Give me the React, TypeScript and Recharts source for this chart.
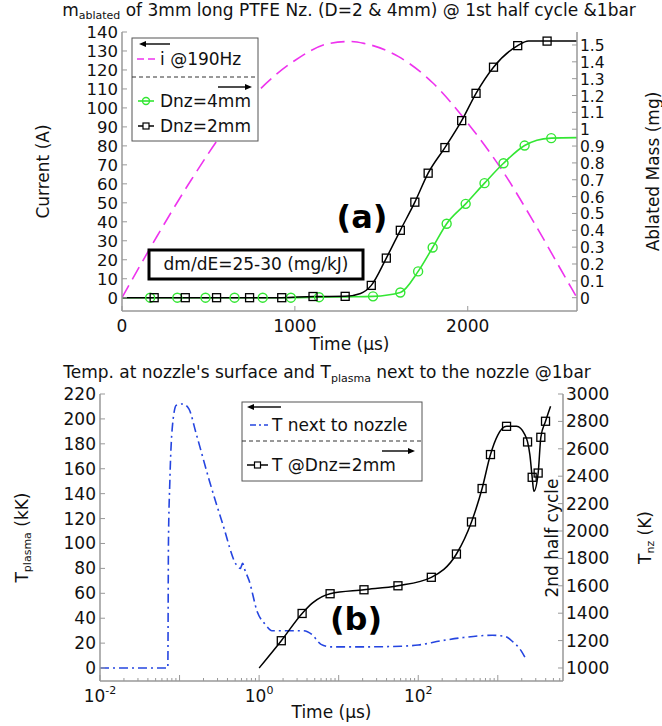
import React from 'react';
import { ComposedChart, Line, XAxis, YAxis } from 'recharts';

const FONT = "'DejaVu Sans', sans-serif";
const AXIS = '#999';
const INK = '#111';

// (a) arc current and ablated mass during the 1st half cycle
const currentTime = [0, 200, 400, 600, 800, 1000, 1200, 1316, 1400, 1600, 1800, 2000, 2200, 2400, 2600, 2632];
const currentAmp = [0, 32, 62, 89, 110, 125, 134, 135, 134, 127, 113, 92, 67, 37, 5, 0];

const dnz4Time = [0, 163, 320, 483, 651, 814, 977, 1140, 1300, 1452, 1610, 1713, 1797, 1878, 1988, 2097, 2207, 2329, 2400, 2483, 2632];
const dnz4Mass = [0, 0, 0, 0, 0, 0, 0, 0.003, 0.005, 0.008, 0.031, 0.156, 0.298, 0.439, 0.557, 0.68, 0.798, 0.903, 0.935, 0.947, 0.95];
const dnz4Marker = [0, 1, 1, 1, 1, 1, 1, 1, 0, 1, 1, 1, 1, 1, 1, 1, 1, 1, 0, 1, 0];

const dnz2Time = [0, 186, 366, 547, 738, 924, 1105, 1291, 1380, 1442, 1529, 1610, 1694, 1771, 1868, 1965, 2048, 2149, 2289, 2352, 2459, 2632];
const dnz2Mass = [0, 0, 0, 0, 0, 0, 0.007, 0.008, 0.025, 0.073, 0.235, 0.4, 0.567, 0.739, 0.891, 1.051, 1.213, 1.368, 1.496, 1.523, 1.523, 1.523];
const dnz2Marker = [0, 1, 1, 1, 1, 1, 1, 1, 0, 1, 1, 1, 1, 1, 1, 1, 1, 1, 1, 0, 1, 0];

const timeTicks = [0, 1000, 2000];
const currentTicks = [0, 10, 20, 30, 40, 50, 60, 70, 80, 90, 100, 110, 120, 130, 140];
const massTicks = [0, 0.1, 0.2, 0.3, 0.4, 0.5, 0.6, 0.7, 0.8, 0.9, 1, 1.1, 1.2, 1.3, 1.4, 1.5];

// (b) plasma temperature and nozzle surface temperature, log time
const plasmaTime = [0.01, 0.0712, 0.0725, 0.0755, 0.081, 0.091, 0.11, 0.131, 0.162, 0.238, 0.351, 0.516, 0.58, 0.62, 0.66, 0.75, 0.95, 1.2, 1.45, 2, 3.6, 4.6, 6, 8, 20, 61, 100, 200, 370, 850, 1220, 1550, 1960, 2220];
const plasmaKK = [0, 0, 100, 150, 193, 211, 212, 208, 188, 150, 115, 83, 80, 84, 79, 70, 45, 35, 30, 30, 30, 27, 19, 17, 17, 17.5, 18.5, 22, 24.5, 26.3, 25.5, 21, 14, 8];

const nozzleTime = [1, 1.9, 3.47, 4.7, 7.8, 20.8, 55.6, 146, 302, 467, 635, 809, 1000, 1288, 1718, 2188, 2366, 2529, 2705, 2840, 3215, 3475, 3980, 4600];
const nozzleK = [1000, 1199, 1398, 1475, 1542, 1571, 1600, 1662, 1832, 2066, 2310, 2558, 2700, 2764, 2764, 2704, 2650, 2558, 2392, 2290, 2423, 2684, 2801, 2910];
const nozzleMarker = [0, 1, 1, 0, 1, 1, 1, 1, 1, 1, 1, 1, 0, 1, 0, 0, 1, 0, 1, 0, 1, 1, 1, 0];

const plasmaTicks = [0, 20, 40, 60, 80, 100, 120, 140, 160, 180, 200, 220];
const nozzleTicks = [1000, 1200, 1400, 1600, 1800, 2000, 2200, 2400, 2600, 2800, 3000];
const logDecades = [0.01, 0.1, 1, 10, 100, 1000];
const logMantissas = [1, 2, 3, 4, 5, 6, 7, 8, 9];
const logLabelValues = [0.01, 1, 100];
const logLabelExps = ['-2', '0', '2'];

const currentData = currentTime.map((t, i) => ({ t, v: currentAmp[i] }));
const dnz4Data = dnz4Time.map((t, i) => ({ t, v: dnz4Mass[i], mk: dnz4Marker[i] }));
const dnz2Data = dnz2Time.map((t, i) => ({ t, v: dnz2Mass[i], mk: dnz2Marker[i] }));
const plasmaData = plasmaTime.map((t, i) => ({ t, v: plasmaKK[i] }));
const nozzleData = nozzleTime.map((t, i) => ({ t, v: nozzleK[i], mk: nozzleMarker[i] }));

const logTicks = logDecades
  .flatMap((d) => logMantissas.map((m) => +(m * d).toPrecision(3)))
  .filter((v) => v <= 6600);

const isDecade = (v: number) => Math.abs(Math.log10(v) - Math.round(Math.log10(v))) < 1e-6;

const GREEN = '#33e633';
const MAGENTA = '#ee33ee';
const BLUE = '#2545e0';

// inward ticks, Matlab style
const BottomTick = (p: any) => (
  <g>
    <line x1={p.x} y1={p.y} x2={p.x} y2={p.y - 5} stroke={AXIS} />
    <text x={p.x} y={p.y + 21} textAnchor="middle" fontSize={17} fill={INK} fontFamily={FONT}>
      {p.payload.value}
    </text>
  </g>
);
const TopTick = (p: any) => <line x1={p.x} y1={p.y} x2={p.x} y2={p.y + 5} stroke={AXIS} />;
const makeLeftTick = (size: number) => (p: any) => (
  <g>
    <line x1={p.x} y1={p.y} x2={p.x + 5} y2={p.y} stroke={AXIS} />
    <text x={p.x - 4} y={p.y + 6} textAnchor="end" fontSize={size} fill={INK} fontFamily={FONT}>
      {p.payload.value}
    </text>
  </g>
);
const makeRightTick = (size: number) => (p: any) => (
  <g>
    <line x1={p.x} y1={p.y} x2={p.x - 5} y2={p.y} stroke={AXIS} />
    <text x={p.x + 3} y={p.y + 6} textAnchor="start" fontSize={size} fill={INK} fontFamily={FONT}>
      {p.payload.value}
    </text>
  </g>
);
const LogBottomTick = (p: any) => {
  const v = p.payload.value;
  const len = isDecade(v) ? 6 : 3;
  const li = logLabelValues.findIndex((l) => Math.abs(l - v) < 1e-9);
  return (
    <g>
      <line x1={p.x} y1={p.y} x2={p.x} y2={p.y - len} stroke={AXIS} />
      {li >= 0 && (
        <text x={p.x} y={p.y + 21} textAnchor="middle" fontSize={17} fill={INK} fontFamily={FONT}>
          10<tspan fontSize={11} dy={-8}>{logLabelExps[li]}</tspan>
        </text>
      )}
    </g>
  );
};
const LogTopTick = (p: any) => {
  const len = isDecade(p.payload.value) ? 6 : 3;
  return <line x1={p.x} y1={p.y} x2={p.x} y2={p.y + len} stroke={AXIS} />;
};

const circleDot = (p: any) =>
  p.payload.mk ? (
    <circle key={`c${p.index}`} cx={p.cx} cy={p.cy} r={4.5} fill="none" stroke={GREEN} strokeWidth={1.4} />
  ) : (
    <g key={`c${p.index}`} />
  );
const squareDot = (p: any) =>
  p.payload.mk ? (
    <rect key={`s${p.index}`} x={p.cx - 4} y={p.cy - 4} width={8} height={8} fill="none" stroke="#000" strokeWidth={1.3} />
  ) : (
    <g key={`s${p.index}`} />
  );

const axisLine = { stroke: AXIS, strokeWidth: 1.5 };

function Arrow({ x1, x2, y }: { x1: number; x2: number; y: number }) {
  const d = x2 > x1 ? 1 : -1;
  return (
    <g>
      <line x1={x1} y1={y} x2={x2 - d * 4} y2={y} stroke="#000" strokeWidth={1.4} />
      <polygon points={`${x2},${y} ${x2 - d * 7},${y - 3} ${x2 - d * 7},${y + 3}`} fill="#000" />
    </g>
  );
}

export default function App() {
  return (
    <div style={{ position: 'absolute', left: 0, top: 0, width: 662, height: 726, background: '#fff', overflow: 'hidden' }}>
      <div style={{ position: 'absolute', left: 0, top: 0 }}>
        <ComposedChart width={662} height={360} margin={{ top: 32, right: 0, bottom: 0, left: 0 }}>
          <XAxis xAxisId="x" dataKey="t" type="number" domain={[0, 2632]} allowDataOverflow ticks={timeTicks} interval={0}
            height={49} axisLine={axisLine} tickLine={false} tickSize={0} tickMargin={0} tick={BottomTick} />
          <XAxis xAxisId="xt" orientation="top" dataKey="t" type="number" domain={[0, 2632]} allowDataOverflow ticks={timeTicks} interval={0}
            height={0} axisLine={axisLine} tickLine={false} tickSize={0} tickMargin={0} tick={TopTick} />
          <YAxis yAxisId="l" type="number" domain={[-7, 140]} allowDataOverflow ticks={currentTicks} interval={0} width={122}
            axisLine={axisLine} tickLine={false} tickSize={0} tickMargin={0} tick={makeLeftTick(16.5)} />
          <YAxis yAxisId="r" orientation="right" type="number" domain={[-0.079, 1.577]} allowDataOverflow ticks={massTicks} interval={0} width={85}
            axisLine={axisLine} tickLine={false} tickSize={0} tickMargin={0} tick={makeRightTick(15.5)} />
          <Line xAxisId="x" yAxisId="l" data={currentData} dataKey="v" type="monotone" stroke={MAGENTA} strokeWidth={1.6}
            strokeDasharray="14 7" dot={false} activeDot={false} isAnimationActive={false} />
          <Line xAxisId="x" yAxisId="r" data={dnz4Data} dataKey="v" type="monotone" stroke={GREEN} strokeWidth={1.6}
            dot={circleDot} activeDot={false} isAnimationActive={false} />
          <Line xAxisId="x" yAxisId="r" data={dnz2Data} dataKey="v" type="monotone" stroke="#000" strokeWidth={1.5}
            dot={squareDot} activeDot={false} isAnimationActive={false} />
        </ComposedChart>
      </div>

      <div style={{ position: 'absolute', left: 0, top: 360 }}>
        <ComposedChart width={662} height={366} margin={{ top: 34, right: 0, bottom: 0, left: 0 }}>
          <XAxis xAxisId="x" dataKey="t" type="number" scale="log" domain={[0.01, 6600]} allowDataOverflow ticks={logTicks} interval={0}
            height={45} axisLine={axisLine} tickLine={false} tickSize={0} tickMargin={0} tick={LogBottomTick} />
          <XAxis xAxisId="xt" orientation="top" dataKey="t" type="number" scale="log" domain={[0.01, 6600]} allowDataOverflow ticks={logTicks} interval={0}
            height={0} axisLine={axisLine} tickLine={false} tickSize={0} tickMargin={0} tick={LogTopTick} />
          <YAxis yAxisId="l" type="number" domain={[-10.4, 220]} allowDataOverflow ticks={plasmaTicks} interval={0} width={100}
            axisLine={axisLine} tickLine={false} tickSize={0} tickMargin={0} tick={makeLeftTick(17)} />
          <YAxis yAxisId="r" orientation="right" type="number" domain={[905, 3000]} allowDataOverflow ticks={nozzleTicks} interval={0} width={99}
            axisLine={axisLine} tickLine={false} tickSize={0} tickMargin={0} tick={makeRightTick(17)} />
          <Line xAxisId="x" yAxisId="l" data={plasmaData} dataKey="v" type="monotone" stroke={BLUE} strokeWidth={1.6}
            strokeDasharray="9 4 2 4" dot={false} activeDot={false} isAnimationActive={false} />
          <Line xAxisId="x" yAxisId="r" data={nozzleData} dataKey="v" type="monotone" stroke="#000" strokeWidth={1.5}
            dot={squareDot} activeDot={false} isAnimationActive={false} />
        </ComposedChart>
      </div>

      <svg width={662} height={726} style={{ position: 'absolute', left: 0, top: 0, pointerEvents: 'none' }} fontFamily={FONT} fill={INK}>
        {/* titles */}
        <text x={349} y={16} textAnchor="middle" fontSize={17}>
          m<tspan fontSize={11} dy={3}>ablated</tspan>
          <tspan dy={-3}>{' of 3mm long PTFE Nz. (D=2 & 4mm) @ 1st half cycle &1bar'}</tspan>
        </text>
        <text x={327} y={378} textAnchor="middle" fontSize={17}>
          {"Temp. at nozzle's surface and T"}
          <tspan fontSize={11} dy={4}>plasma</tspan>
          <tspan dy={-4}> next to the nozzle @1bar</tspan>
        </text>

        {/* axis titles */}
        <text x={349.5} y={350} textAnchor="middle" fontSize={17}>Time (µs)</text>
        <text x={331.5} y={718} textAnchor="middle" fontSize={17}>Time (µs)</text>
        <text transform="translate(43,171.5) rotate(-90)" textAnchor="middle" dominantBaseline="central" fontSize={17}>Current (A)</text>
        <text transform="translate(653,171.5) rotate(-90)" textAnchor="middle" dominantBaseline="central" fontSize={17}>Ablated Mass (mg)</text>
        <text transform="translate(22,537.5) rotate(-90)" textAnchor="middle" dominantBaseline="central" fontSize={17}>
          T<tspan fontSize={11} dy={5}>plasma</tspan><tspan dy={-5}> (kK)</tspan>
        </text>
        <text transform="translate(645,537.5) rotate(-90)" textAnchor="middle" dominantBaseline="central" fontSize={17}>
          T<tspan fontSize={11} dy={5}>nz</tspan><tspan dy={-5}> (K)</tspan>
        </text>

        {/* panel (a) annotations */}
        <text x={362} y={228} textAnchor="middle" fontSize={32} fontWeight="bold" fill="#000">(a)</text>
        <rect x={149} y={250} width={214} height={29} fill="#fff" stroke="#000" strokeWidth={3} />
        <text x={256} y={270} textAnchor="middle" fontSize={17}>dm/dE=25-30 (mg/kJ)</text>

        {/* panel (a) legend */}
        <rect x={132} y={38} width={126} height={103} fill="#fff" stroke="#555" strokeWidth={1} />
        <Arrow x1={170} x2={139} y={44} />
        <line x1={137} y1={59} x2={157} y2={59} stroke={MAGENTA} strokeWidth={1.6} strokeDasharray="7 4" />
        <text x={160} y={65} fontSize={17}>i @190Hz</text>
        <line x1={132} y1={77} x2={258} y2={77} stroke="#333" strokeWidth={1} strokeDasharray="4 3" />
        <Arrow x1={218} x2={252} y={87} />
        <line x1={138} y1={101} x2={154} y2={101} stroke={GREEN} strokeWidth={1.6} />
        <circle cx={146} cy={101} r={3.5} fill="none" stroke={GREEN} strokeWidth={1.4} />
        <text x={160} y={107} fontSize={17}>Dnz=4mm</text>
        <line x1={138} y1={126} x2={154} y2={126} stroke="#000" strokeWidth={1.5} />
        <rect x={143} y={123} width={6} height={6} fill="#fff" stroke="#000" strokeWidth={1.2} />
        <text x={160} y={132} fontSize={17}>Dnz=2mm</text>

        {/* panel (b) annotations */}
        <text x={356} y={630} textAnchor="middle" fontSize={32} fontWeight="bold" fill="#000">(b)</text>
        <text transform="translate(552,538) rotate(-90)" textAnchor="middle" dominantBaseline="central" fontSize={17}>2nd half cycle</text>

        {/* panel (b) legend */}
        <rect x={242} y={402} width={180} height={79} fill="#fff" stroke="#555" strokeWidth={1} />
        <Arrow x1={281} x2={247} y={407} />
        <line x1={250} y1={425} x2={268} y2={425} stroke={BLUE} strokeWidth={1.6} strokeDasharray="6 3 2 3" />
        <text x={272} y={431} fontSize={17}>T next to nozzle</text>
        <line x1={242} y1={441} x2={422} y2={441} stroke="#333" strokeWidth={1} strokeDasharray="4 3" />
        <Arrow x1={382} x2={415} y={451} />
        <line x1={247} y1={465} x2={268} y2={465} stroke="#000" strokeWidth={1.5} />
        <rect x={254.5} y={462} width={6} height={6} fill="#fff" stroke="#000" strokeWidth={1.2} />
        <text x={272} y={471} fontSize={17}>T @Dnz=2mm</text>
      </svg>
    </div>
  );
}
